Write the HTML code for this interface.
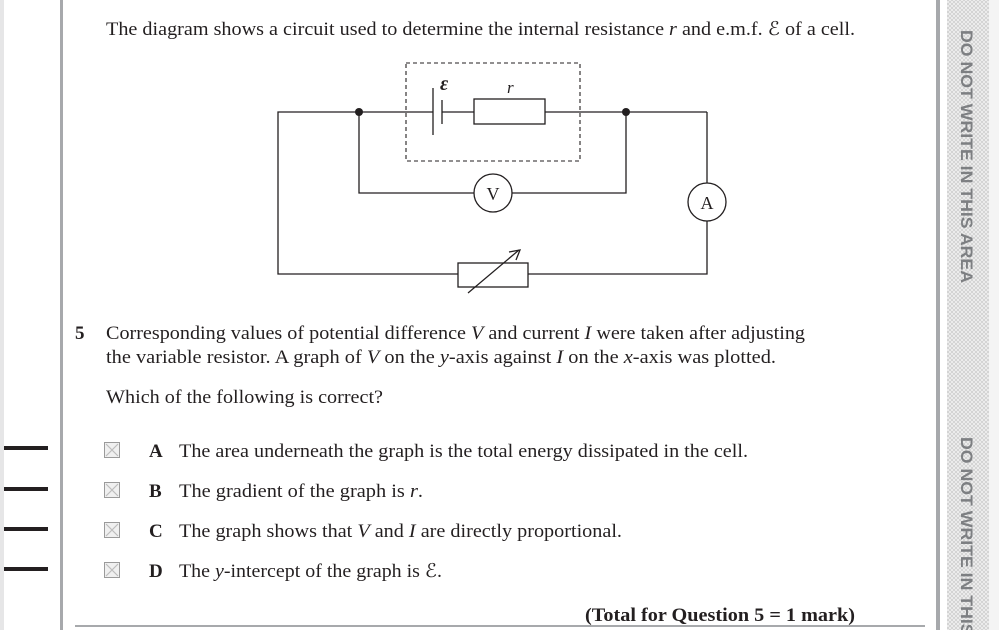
<!DOCTYPE html>
<html><head><meta charset="utf-8"><style>
html,body{margin:0;padding:0;background:#fff;width:999px;height:630px;overflow:hidden;}
svg{display:block;}
.s text{font-family:"Liberation Serif","Times New Roman",serif;fill:#231f20;}
</style></head><body>
<svg width="999" height="630" viewBox="0 0 999 630" xmlns="http://www.w3.org/2000/svg">
<defs>
<pattern id="h" width="4" height="4" patternUnits="userSpaceOnUse">
<rect width="4" height="4" fill="#f2f2f2"/>
<path d="M0 0L4 4M4 0L0 4" stroke="#cfcfcf" stroke-width="0.8"/>
</pattern>
<clipPath id="c"><rect x="0" y="0" width="999" height="630"/></clipPath>
</defs>
<g clip-path="url(#c)">
<rect x="0" y="0" width="4" height="630" fill="#e6e6e7"/>
<rect x="4" y="446" width="44" height="4" fill="#231f20"/>
<rect x="4" y="487" width="44" height="4" fill="#231f20"/>
<rect x="4" y="527" width="44" height="4" fill="#231f20"/>
<rect x="4" y="567" width="44" height="4" fill="#231f20"/>
<rect x="60" y="0" width="3" height="630" fill="#a7a9ac"/>
<rect x="936" y="0" width="4" height="630" fill="#a7a9ac"/>
<rect x="947" y="0" width="42" height="630" fill="url(#h)"/>
<rect x="989" y="0" width="10" height="630" fill="#f4f4f4"/>
<rect x="75" y="625" width="850" height="2" fill="#a7a9ac"/>
<text transform="translate(961,30) rotate(90)" textLength="253" lengthAdjust="spacingAndGlyphs" style="font-family:'Liberation Sans',sans-serif;font-weight:bold;font-size:17px;fill:#7d7f82">DO NOT WRITE IN THIS AREA</text>
<text transform="translate(961,437) rotate(90)" textLength="253" lengthAdjust="spacingAndGlyphs" style="font-family:'Liberation Sans',sans-serif;font-weight:bold;font-size:17px;fill:#7d7f82">DO NOT WRITE IN THIS AREA</text>

<g class="s" font-family="Liberation Serif, serif">
<text x="106" y="35" font-size="19" textLength="749" lengthAdjust="spacingAndGlyphs">The diagram shows a circuit used to determine the internal resistance <tspan font-style="italic">r</tspan> and e.m.f. ℰ of a cell.</text>

<g stroke="#231f20" stroke-width="1.3" fill="none">
<polyline points="433,112 278,112 278,274 458,274"/>
<line x1="442" y1="112" x2="474" y2="112"/>
<line x1="545" y1="112" x2="707" y2="112"/>
<line x1="707" y1="112" x2="707" y2="183"/>
<polyline points="707,221 707,274 528,274"/>
<line x1="433" y1="88" x2="433" y2="135"/>
<line x1="442" y1="100" x2="442" y2="124"/>
<rect x="474" y="99" width="71" height="25" fill="#fff"/>
<polyline points="359,112 359,193 474,193"/>
<polyline points="626,112 626,193 512,193"/>
<circle cx="493" cy="193" r="19" fill="#fff"/>
<circle cx="707" cy="202" r="19" fill="#fff"/>
<rect x="458" y="263" width="70" height="24" fill="#fff"/>
<line x1="468" y1="293" x2="519" y2="250"/>
<polyline points="509,252 520,250 516,260"/>
<rect x="406" y="63" width="174" height="98" stroke-dasharray="4,3" stroke-width="1.1"/>
</g>
<circle cx="359" cy="112" r="4" fill="#231f20"/>
<circle cx="626" cy="112" r="4" fill="#231f20"/>
<text x="440" y="90" font-size="20" font-style="italic" font-weight="bold">ε</text>
<text x="507" y="93" font-size="17" font-style="italic">r</text>
<text x="493" y="200" font-size="18" text-anchor="middle">V</text>
<text x="707" y="209" font-size="18" text-anchor="middle">A</text>

<text x="75" y="339" font-size="19" font-weight="bold">5</text>
<text x="106" y="339" font-size="19" textLength="699" lengthAdjust="spacingAndGlyphs">Corresponding values of potential difference <tspan font-style="italic">V</tspan> and current <tspan font-style="italic">I</tspan> were taken after adjusting</text>
<text x="106" y="363" font-size="19" textLength="670" lengthAdjust="spacingAndGlyphs">the variable resistor.  A graph of <tspan font-style="italic">V</tspan> on the <tspan font-style="italic">y</tspan>-axis against <tspan font-style="italic">I</tspan> on the <tspan font-style="italic">x</tspan>-axis was plotted.</text>
<text x="106" y="403" font-size="19" textLength="277" lengthAdjust="spacingAndGlyphs">Which of the following is correct?</text>

<g stroke="#9a9a9a" stroke-width="1" fill="#f0f0f0">
<rect x="104.5" y="442.5" width="15" height="15"/>
<rect x="104.5" y="482.5" width="15" height="15"/>
<rect x="104.5" y="522.5" width="15" height="15"/>
<rect x="104.5" y="562.5" width="15" height="15"/>
</g>
<g stroke="#bdbdbd" stroke-width="1.2">
<path d="M106 444L118 456M118 444L106 456"/>
<path d="M106 484L118 496M118 484L106 496"/>
<path d="M106 524L118 536M118 524L106 536"/>
<path d="M106 564L118 576M118 564L106 576"/>
</g>
<g font-size="19">
<text x="149" y="457" font-weight="bold">A</text>
<text x="179" y="457" textLength="569" lengthAdjust="spacingAndGlyphs">The area underneath the graph is the total energy dissipated in the cell.</text>
<text x="149" y="497" font-weight="bold">B</text>
<text x="179" y="497" textLength="244" lengthAdjust="spacingAndGlyphs">The gradient of the graph is <tspan font-style="italic">r</tspan>.</text>
<text x="149" y="537" font-weight="bold">C</text>
<text x="179" y="537" textLength="443" lengthAdjust="spacingAndGlyphs">The graph shows that <tspan font-style="italic">V</tspan> and <tspan font-style="italic">I</tspan> are directly proportional.</text>
<text x="149" y="577" font-weight="bold">D</text>
<text x="179" y="577" textLength="263" lengthAdjust="spacingAndGlyphs">The <tspan font-style="italic">y</tspan>-intercept of the graph is ℰ.</text>
<text x="585" y="621" font-weight="bold" textLength="270" lengthAdjust="spacingAndGlyphs">(Total for Question 5 = 1 mark)</text>
</g>
</g>
</g>
</svg>
</body></html>
